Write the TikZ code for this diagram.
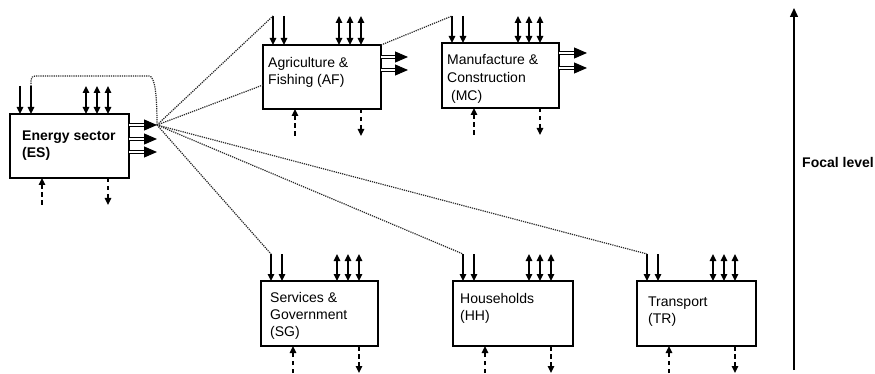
\documentclass[tikz,border=0pt]{standalone}
\usepackage{fontspec}
\setmainfont{Liberation Sans}
\usetikzlibrary{arrows.meta,calc}
\tikzset{
  box/.style={draw, line width=1.4pt, rectangle, inner sep=0pt, outer sep=0pt, anchor=north west},
  lbl/.style={font=\fontsize{14}{17}\selectfont, anchor=base west, inner sep=0pt, align=left},
  inarr/.style={line width=1.3pt, -{Triangle[length=7pt,width=6.5pt]}},
  biarr/.style={line width=1.3pt, {Triangle[length=7pt,width=6.5pt]}-{Triangle[length=7pt,width=6.5pt]}},
  dasharr/.style={line width=1.3pt, dash pattern=on 4.5pt off 3.5pt, -{Triangle[length=7pt,width=6.5pt]}},
  outarr/.style={double, double distance=2.4pt, line width=1pt, -{Triangle[length=13pt,width=11pt]}},
  link/.style={line width=1.2pt, dash pattern=on 1.2pt off 1pt, black!85},
}
\newcommand{\decor}[2]{%
  \coordinate (#1-in1) at ($(#1.north west)+(10,-#2)$);
  \coordinate (#1-in2) at ($(#1.north west)+(21,-#2)$);
  \draw[inarr] (#1-in1) -- ($(#1.north west)+(10,0)$);
  \draw[inarr] (#1-in2) -- ($(#1.north west)+(21,0)$);
  \foreach \dx in {76,87,98}{
    \draw[biarr] ($(#1.north west)+(\dx,-#2)$) -- ($(#1.north west)+(\dx,0)$);
  }
  \draw[dasharr] ($(#1.south west)+(32,27)$) -- ($(#1.south west)+(32,0)$);
  \draw[dasharr] ($(#1.south west)+(98,0)$) -- ($(#1.south west)+(98,27)$);
}
\begin{document}
\begin{tikzpicture}[x=1pt,y=-1pt]
\useasboundingbox (0,0) rectangle (875,374);
% boxes
\node[box, minimum width=119pt, minimum height=64pt] (es) at (10,114) {};
\node[box, minimum width=118pt, minimum height=64pt] (af) at (263,45) {};
\node[box, minimum width=117pt, minimum height=65pt] (mc) at (442,43) {};
\node[box, minimum width=117pt, minimum height=65pt] (sg) at (261,281) {};
\node[box, minimum width=120pt, minimum height=65pt] (hh) at (453,281) {};
\node[box, minimum width=119pt, minimum height=65pt] (tr) at (637,281) {};
% labels (base = last line)
\node[lbl, font=\fontsize{14}{17}\selectfont\bfseries] (esl) at ($(es.north west)+(12,44)$) {Energy sector\\(ES)};
\node[lbl] (afl) at ($(af.north west)+(5,40)$) {Agriculture \&\\Fishing (AF)};
\node[lbl, font=\fontsize{14}{18}\selectfont] (mcl) at ($(mc.north west)+(5,58)$) {Manufacture \&\\Construction\\\ (MC)};
\node[lbl] (sgl) at ($(sg.north west)+(9,55)$) {Services \&\\Government\\(SG)};
\node[lbl] (hhl) at ($(hh.north west)+(7,39)$) {Households\\(HH)};
\node[lbl] (trl) at ($(tr.north west)+(11,42)$) {Transport\\(TR)};
% decorations
\decor{es}{28}
\decor{af}{29}
\decor{mc}{27}
\decor{sg}{27}
\decor{hh}{27}
\decor{tr}{27}
% output arrows
\coordinate (hub) at ($(es.north west)+(147,11)$);
\draw[outarr] ($(es.north west)+(119,11)$) -- (hub);
\draw[outarr] ($(es.north west)+(119,25)$) -- ($(es.north west)+(147,25)$);
\draw[outarr] ($(es.north west)+(119,38)$) -- ($(es.north west)+(147,38)$);
\draw[outarr] ($(af.north west)+(118,12)$) -- ($(af.north west)+(145,12)$);
\draw[outarr] ($(af.north west)+(118,25)$) -- ($(af.north west)+(145,25)$);
\draw[outarr] ($(mc.north west)+(117,10)$) -- ($(mc.north west)+(145,10)$);
\draw[outarr] ($(mc.north west)+(117,25)$) -- ($(mc.north west)+(145,25)$);
% dotted links
\draw[link, rounded corners=4pt] (es-in2) -- ($(es-in2)+(0,-10)$) -- ($(es-in2)+(114,-10)$)
   .. controls ($(es-in2)+(124,-10)$) and ($(hub)+(0,-30)$) .. (hub);
\draw[link] (hub) -- (af-in1);
\draw[link] (hub) -- ($(af.north west)+(0,40)$);
\draw[link] (hub) -- (sg-in1);
\draw[link] (hub) -- (hh-in1);
\draw[link] (hub) -- (tr-in1);
\draw[link] (af.north east) -- (mc-in1);
% focal level
\coordinate (fbot) at (794,370);
\coordinate (ftop) at (794,8);
\draw[line width=1.4pt, -{Triangle[length=9pt,width=8pt]}] (fbot) -- (ftop);
\node[font=\fontsize{14}{17}\selectfont\bfseries, anchor=west, inner sep=0pt] (focal) at (802,162) {Focal level};
\end{tikzpicture}
\end{document}
